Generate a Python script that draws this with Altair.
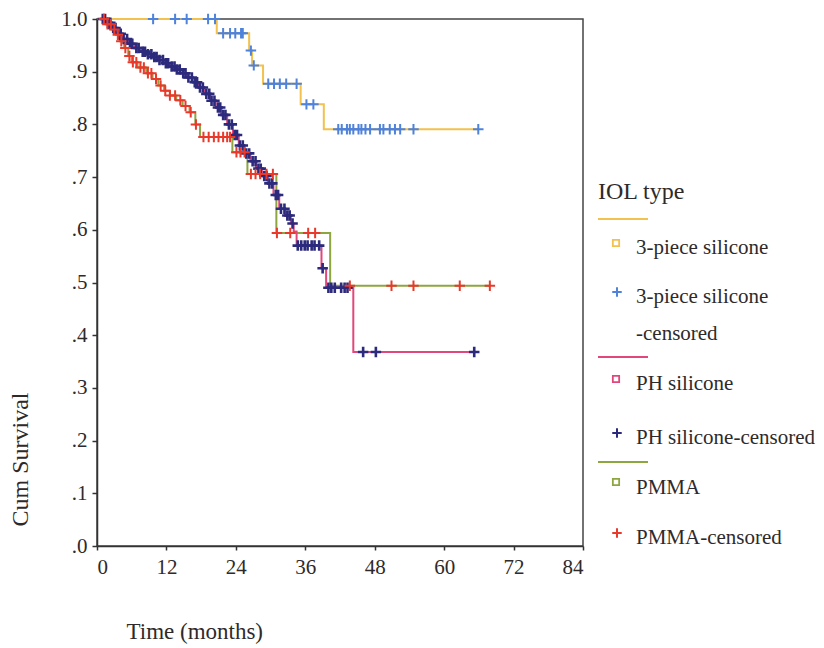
import altair as alt
import pandas as pd

FONT = "Liberation Serif"
TXT = "#2f2a2a"
PLUS = "M-1,0H1M0,-1V1"

# ---------------- data ----------------
# 3-piece silicone: step times (months) and cumulative survival after each step
p3_t = [0, 20.7, 26.3, 26.8, 28.7, 35.2, 39.2]
p3_s = [1.0, 0.973, 0.940, 0.912, 0.877, 0.838, 0.791]
p3_cens = [9.7, 13.5, 15.5, 19.2, 20.4, 21.8, 23.0, 23.9, 24.9, 25.2, 26.6, 27.1,
           29.6, 30.6, 31.6, 32.7, 34.5, 36.2, 37.4, 41.7, 42.3, 43.2, 43.7, 44.3,
           45.2, 45.7, 46.4, 47.2, 48.9, 49.5, 50.6, 51.5, 52.4, 54.7, 65.9]

# PH silicone
ph_t = [0, 1.5, 2.5, 3.5, 4.5, 5.5, 6.5, 7.5, 8.5, 9.5, 10.5, 11.5, 12.5, 13.5,
        14.5, 15.5, 16.5, 17.5, 18.5, 19.5, 20.5, 21.5, 22.5, 23.5, 24.5, 25.5,
        26.5, 27.5, 28.5, 29.5, 30.5, 31.5, 32.5, 33.5, 34.0, 34.5, 38.8, 39.6, 44.3]
ph_s = [1.0, 0.993, 0.983, 0.972, 0.962, 0.953, 0.945, 0.938, 0.933, 0.928, 0.922,
        0.916, 0.910, 0.904, 0.897, 0.889, 0.880, 0.870, 0.858, 0.845, 0.832, 0.818,
        0.800, 0.780, 0.760, 0.745, 0.730, 0.716, 0.702, 0.688, 0.666, 0.640, 0.627,
        0.612, 0.597, 0.570, 0.527, 0.490, 0.368]
ph_cens = [1.0, 1.4, 1.9, 2.3, 2.8, 3.2, 3.7, 4.1, 4.6, 5.2, 5.7, 6.1, 6.8, 7.2, 7.9,
           8.3, 8.8, 9.4, 9.9, 10.3, 10.8, 11.4, 11.9, 12.3, 12.9, 13.4, 13.8, 14.3,
           14.9, 15.3, 15.8, 16.4, 16.9, 17.3, 17.8, 18.3, 18.9, 19.4, 19.8, 20.3,
           20.9, 21.3, 21.8, 22.2, 22.8, 23.3, 23.8, 24.2, 24.7, 25.2, 25.8, 26.3,
           26.9, 27.4, 27.9, 28.3, 28.9, 29.3, 29.8, 30.3, 30.9, 31.3, 31.8, 32.4,
           32.9, 33.3, 33.8, 34.7, 35.3, 35.9, 36.4, 37.1, 37.6, 38.4, 39.0, 40.0,
           40.5, 41.1, 42.2, 42.8, 43.3, 46.0, 48.2, 65.2]

# PMMA
pm_t = [0, 1.5, 2.5, 3.3, 4.0, 4.7, 5.4, 6.0, 7.0, 8.5, 9.6, 10.6, 11.6, 12.6, 13.7,
        14.8, 16.0, 17.0, 17.8, 23.4, 26.0, 31.0, 40.3]
pm_s = [1.0, 0.99, 0.98, 0.97, 0.958, 0.945, 0.93, 0.918, 0.908, 0.897, 0.886, 0.874,
        0.864, 0.855, 0.846, 0.835, 0.823, 0.80, 0.776, 0.747, 0.706, 0.594, 0.494]
pm_cens = [1.2, 1.8, 2.4, 3.0, 3.6, 4.2, 4.9, 5.6, 6.2, 6.8, 7.5, 8.1, 8.8, 9.4, 10.2,
           11.0, 11.8, 12.6, 13.5, 14.4, 15.3, 16.2, 17.1, 18.4, 19.3, 20.2, 21.0,
           21.8, 22.5, 23.0, 24.1, 24.8, 25.5, 26.6, 27.4, 28.2, 29.3, 30.4, 31.1,
           33.4, 36.5, 37.7, 43.7, 50.9, 54.7, 62.7, 67.9]

x_ticks = [0, 12, 24, 36, 48, 60, 72, 84]
y_ticks = [0.0, 0.1, 0.2, 0.3, 0.4, 0.5, 0.6, 0.7, 0.8, 0.9, 1.0]

legend_title = "IOL type"
legend_labels = ["3-piece silicone", "3-piece silicone", "-censored", "PH silicone",
                 "PH silicone-censored", "PMMA", "PMMA-censored"]

COL_P3, COL_P3C = "#f2c14e", "#4f82da"
COL_PH, COL_PHC = "#e2477c", "#2c2a7c"
COL_PM, COL_PMC = "#8da640", "#e8392b"


def km(name, t, s, cens):
    last = max(cens + t)
    steps = pd.DataFrame({"series": name, "t": t + [last], "s": s + [s[-1]]})

    def surv_at(x):
        v = s[0]
        for ti, si in zip(t, s):
            if ti <= x:
                v = si
        return v

    c = pd.DataFrame({"series": name, "t": cens, "s": [surv_at(x) for x in cens]})
    return steps, c


p3_line, p3_c = km("3-piece silicone", p3_t, p3_s, p3_cens)
ph_line, ph_c = km("PH silicone", ph_t, ph_s, ph_cens)
pm_line, pm_c = km("PMMA", pm_t, pm_s, pm_cens)

W, H = 486, 527
TOP = 18  # page y of plot top (for the legend panel scale)

xenc = alt.X("t:Q", scale=alt.Scale(domain=[0, 84], nice=False, zero=False),
             axis=alt.Axis(values=x_ticks, title="Time (months)", grid=False,
                           tickSize=4, labelPadding=6,
                           labelFont=FONT, labelFontSize=21, labelColor=TXT,
                           titleFont=FONT, titleFontSize=23, titleFontWeight="normal",
                           titleColor=TXT,
                           titleAnchor="start", titleAlign="left",
                           titleBaseline="alphabetic", titleX=29, titleY=92))
yenc = alt.Y("s:Q", scale=alt.Scale(domain=[0, 1], nice=False),
             axis=alt.Axis(values=y_ticks, title="Cum Survival", grid=False,
                           tickSize=5, labelPadding=5,
                           labelFont=FONT, labelFontSize=21, labelColor=TXT,
                           titleFont=FONT, titleFontSize=24, titleFontWeight="normal",
                           titleColor=TXT,
                           labelExpr="datum.value >= 1 ? '1.0' : '.' + round(datum.value * 10)",
                           titleAngle=270, titleAlign="left", titleBaseline="middle",
                           titleX=-77, titleY=H - 20))


def line(df, color):
    return alt.Chart(df).mark_line(interpolate="step-after", color=color,
                                   strokeWidth=2).encode(x=xenc, y=yenc, order="t:Q")


def cens(df, color, sw=2.0):
    return alt.Chart(df).mark_point(shape=PLUS, filled=False, size=110, color=color,
                                    strokeWidth=sw, opacity=1).encode(x=xenc, y=yenc)


main = alt.layer(
    line(p3_line, COL_P3), line(pm_line, COL_PM), line(ph_line, COL_PH),
    cens(ph_c, COL_PHC, 2.6), cens(pm_c, COL_PMC), cens(p3_c, COL_P3C),
).properties(width=W, height=H,
             view=alt.ViewBackground(stroke="#444444", strokeWidth=1.5))

# ---------------- legend panel ----------------
LX0, LX1 = 590, 816
lx = alt.Scale(domain=[LX0, LX1], nice=False, zero=False)
ly = alt.Scale(domain=[TOP + H, TOP], nice=False, zero=False)

leg_title_df = pd.DataFrame({"x": [598], "y": [198], "text": [legend_title]})
leg_lab_df = pd.DataFrame({"x": [636] * 7, "y": [247, 296, 333, 383, 437, 487, 537],
                           "text": legend_labels})
leg_line_df = pd.DataFrame({"x": [598] * 3, "x2": [648] * 3, "y": [218, 356, 461],
                            "c": [COL_P3, COL_PH, COL_PM]})
leg_sq_df = pd.DataFrame({"x": [616] * 3, "y": [242, 378, 481],
                          "c": [COL_P3, COL_PH, COL_PM]})
leg_plus_df = pd.DataFrame({"x": [617] * 3, "y": [291, 432, 532],
                            "c": [COL_P3C, COL_PHC, COL_PMC]})

lgx = alt.X("x:Q", scale=lx, axis=None)
lgy = alt.Y("y:Q", scale=ly, axis=None)

legend = alt.layer(
    alt.Chart(leg_title_df).mark_text(font=FONT, fontSize=24, align="left",
                                      baseline="alphabetic", color=TXT)
    .encode(x=lgx, y=lgy, text="text:N"),
    alt.Chart(leg_lab_df).mark_text(font=FONT, fontSize=21, align="left",
                                    baseline="middle", color=TXT)
    .encode(x=lgx, y=lgy, text="text:N"),
    alt.Chart(leg_line_df).mark_rule(strokeWidth=2)
    .encode(x=lgx, x2="x2:Q", y=lgy, color=alt.Color("c:N", scale=None)),
    alt.Chart(leg_sq_df).mark_point(shape="square", filled=False, size=40, strokeWidth=1.8,
                                    opacity=1)
    .encode(x=lgx, y=lgy, color=alt.Color("c:N", scale=None)),
    alt.Chart(leg_plus_df).mark_point(shape=PLUS, filled=False, size=90, strokeWidth=2,
                                      opacity=1)
    .encode(x=lgx, y=lgy, color=alt.Color("c:N", scale=None)),
).properties(width=LX1 - LX0, height=H,
             view=alt.ViewBackground(stroke="transparent", strokeWidth=0))

chart = alt.hconcat(main, legend, spacing=7, bounds="flush").properties(
    padding={"left": -1, "top": -1, "right": 0, "bottom": 0},
    background="white",
).configure_axis(
    domainColor="#333333", domainWidth=1.5, tickColor="#333333", tickWidth=1.5,
    labelFont=FONT, labelFontSize=21, labelColor=TXT,
    titleFont=FONT, titleFontWeight="normal", titleColor=TXT,
)

chart.save("out.html", embed_options={"renderer": "svg", "actions": False})
